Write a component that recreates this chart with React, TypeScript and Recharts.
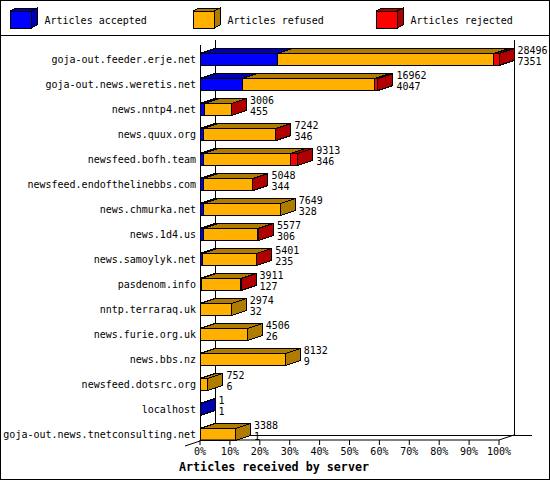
import React from "react";
import { BarChart, Bar, XAxis, YAxis, LabelList } from "recharts";

const servers = [
  "goja-out.feeder.erje.net", "goja-out.news.weretis.net", "news.nntp4.net", "news.quux.org",
  "newsfeed.bofh.team", "newsfeed.endofthelinebbs.com", "news.chmurka.net", "news.1d4.us",
  "news.samoylyk.net", "pasdenom.info", "nntp.terraraq.uk", "news.furie.org.uk",
  "news.bbs.nz", "newsfeed.dotsrc.org", "localhost", "goja-out.news.tnetconsulting.net",
];
const totals = [28496, 16962, 3006, 7242, 9313, 5048, 7649, 5577, 5401, 3911, 2974, 4506, 8132, 752, 1, 3388];
const accepted = [7351, 4047, 455, 346, 346, 344, 328, 306, 235, 127, 32, 26, 9, 6, 1, 1];
const rejected = [480, 290, 25, 30, 720, 20, 0, 100, 30, 20, 0, 0, 0, 0, 0, 0];
const percents = [0, 10, 20, 30, 40, 50, 60, 70, 80, 90, 100];
const legendItems = [
  { name: "Articles accepted", front: "#0000ff", dark: "#0000b0", x: 10 },
  { name: "Articles refused", front: "#ffb000", dark: "#b07c00", x: 193 },
  { name: "Articles rejected", front: "#ff0000", dark: "#b00000", x: 376 },
];
const maxTotal = totals[0];

const data = servers.map((name, i) => ({
  name,
  total: totals[i],
  acc: accepted[i],
  ref: totals[i] - accepted[i] - rejected[i],
  rej: rejected[i],
}));

const MONO = "'DejaVu Sans Mono', 'Liberation Mono', monospace";
const DX = 15;
const DY = 5;
const SHIFT = 6.5;

function pts(list: number[][]) {
  return list.map((p) => p.join(",")).join(" ");
}

function makeShape(front: string, dark: string, key: "acc" | "ref" | "rej") {
  return (props: any) => {
    const { x, y, width, height, payload } = props;
    if (!payload[key]) return <g />;
    const yy = y + SHIFT;
    const last =
      key === "rej" || (key === "ref" && payload.rej === 0) || (key === "acc" && payload.ref === 0 && payload.rej === 0);
    const r = x + width;
    const b = yy + height;
    return (
      <g stroke="#000" strokeWidth={1} shapeRendering="crispEdges">
        <polygon fill={dark} points={pts([[x, yy], [r, yy], [r + DX, yy - DY], [x + DX, yy - DY]])} />
        {last && <polygon fill={dark} points={pts([[r, yy], [r + DX, yy - DY], [r + DX, b - DY], [r, b]])} />}
        <rect x={x} y={yy} width={width} height={height} fill={front} />
      </g>
    );
  };
}

const TickY = (props: any) => {
  const { x, y, payload } = props;
  return (
    <text x={x} y={y + SHIFT + 3.5} textAnchor="end" fontFamily={MONO} fontSize={10} fill="#000">
      {payload.value}
    </text>
  );
};

const TotalsLabel = (props: any) => {
  const { x, y, width, index } = props;
  const lx = x + width + DX + 3.5;
  const top = y + SHIFT;
  return (
    <text fontFamily={MONO} fontSize={10} fill="#000" x={lx} y={top}>
      <tspan x={lx} y={top}>{totals[index]}</tspan>
      <tspan x={lx} y={top + 11}>{accepted[index]}</tspan>
    </text>
  );
};

const line = { stroke: "#000", strokeWidth: 1, shapeRendering: "crispEdges" as const };

export default function App() {
  return (
    <div style={{ position: "absolute", left: 0, top: 0, width: 550, height: 480, background: "#fff" }}>
      <BarChart
        width={550}
        height={480}
        layout="vertical"
        data={data}
        stackOffset="none"
        barSize={12}
        margin={{ top: 40, right: 51, bottom: 0, left: 0 }}
      >
        <rect x={0.5} y={0.5} width={549} height={479} fill="#fff" stroke="#000" shapeRendering="crispEdges" />
        <line x1={0} y1={35.5} x2={550} y2={35.5} {...line} />
        {legendItems.map((it) => (
          <g key={it.name}>
            <polygon
              points={pts([[it.x, 11], [it.x + 21, 11], [it.x + 27, 8], [it.x + 6, 8]])}
              fill={it.dark}
              {...line}
            />
            <polygon
              points={pts([[it.x + 21, 11], [it.x + 27, 8], [it.x + 27, 25], [it.x + 21, 28]])}
              fill={it.dark}
              {...line}
            />
            <rect x={it.x} y={11} width={21} height={17} fill={it.front} {...line} />
            <text x={it.x + 34.5} y={23.5} fontFamily={MONO} fontSize={10} fill="#000">
              {it.name}
            </text>
          </g>
        ))}
        <line x1={200.5} y1={45} x2={200.5} y2={440} {...line} />
        <line x1={215.5} y1={40} x2={215.5} y2={435} {...line} />
        <line x1={514} y1={40} x2={514} y2={435} {...line} />
        <line x1={215} y1={435.5} x2={532} y2={435.5} {...line} />
        <line x1={185} y1={446} x2={200} y2={441} stroke="#000" />
        <line x1={499} y1={440} x2={514} y2={435} stroke="#000" />
        <XAxis
          type="number"
          domain={[0, maxTotal]}
          ticks={percents.map((p) => (p / 100) * maxTotal)}
          tickFormatter={(v: number) => `${Math.round((v / maxTotal) * 100)}%`}
          height={40}
          interval={0}
          tickSize={5}
          tickMargin={3}
          axisLine={{ stroke: "#000" }}
          tickLine={{ stroke: "#000" }}
          tick={{ fontFamily: MONO, fontSize: 10, fill: "#000" }}
        />
        <YAxis
          type="category"
          dataKey="name"
          width={200}
          interval={0}
          axisLine={false}
          tickLine={false}
          tickSize={0}
          tickMargin={4}
          tick={<TickY />}
        />
        <Bar dataKey="acc" name="Articles accepted" stackId="a" isAnimationActive={false} shape={makeShape("#0000ff", "#0000b0", "acc")} />
        <Bar dataKey="ref" name="Articles refused" stackId="a" isAnimationActive={false} shape={makeShape("#ffb000", "#b07c00", "ref")} />
        <Bar dataKey="rej" name="Articles rejected" stackId="a" isAnimationActive={false} shape={makeShape("#ff0000", "#b00000", "rej")}>
          <LabelList dataKey="total" content={<TotalsLabel />} />
        </Bar>
        <text x={274} y={471} textAnchor="middle" fontFamily={MONO} fontSize={11.7} fontWeight="bold" fill="#000">
          Articles received by server
        </text>
      </BarChart>
    </div>
  );
}
